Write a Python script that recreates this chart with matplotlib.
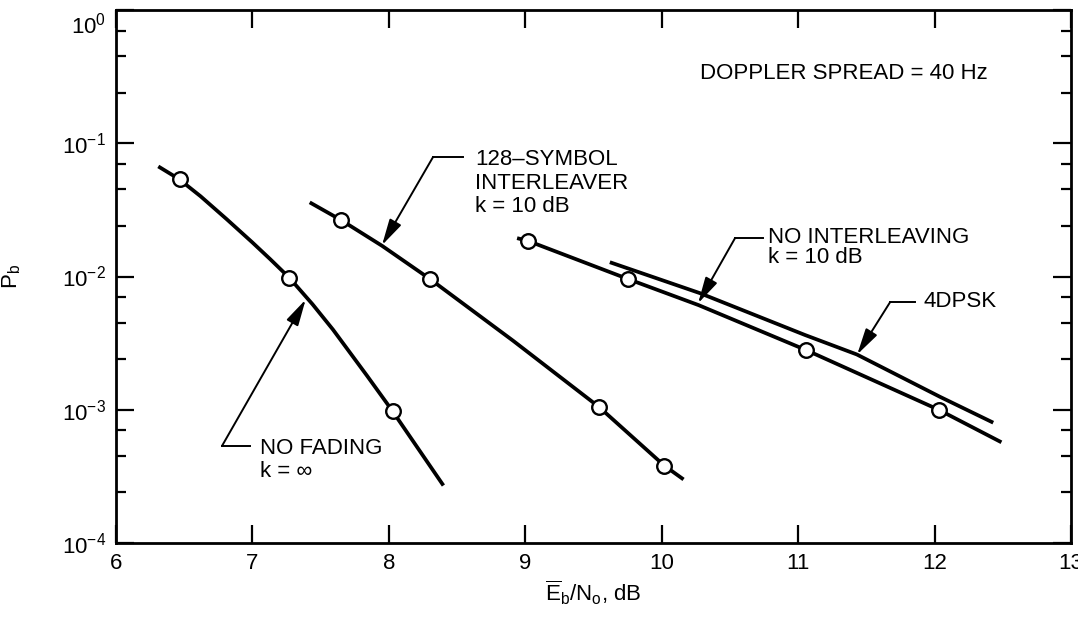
import numpy as np
import matplotlib
matplotlib.use("Agg")
import matplotlib.pyplot as plt
import matplotlib.transforms as mtransforms
from matplotlib.ticker import LogLocator, FixedLocator, NullFormatter

plt.rcParams['font.family'] = ['Liberation Sans', 'DejaVu Sans']
plt.rcParams['mathtext.fontset'] = 'custom'
plt.rcParams['mathtext.rm'] = 'Liberation Sans'
plt.rcParams['mathtext.it'] = 'Liberation Sans:italic'
plt.rcParams['mathtext.bf'] = 'Liberation Sans:bold'

# --- curves (Eb/No in dB, Pb) ---
nofade_x = [6.31, 6.46, 6.62, 6.81, 7.00, 7.13, 7.27, 7.44, 7.59, 7.84, 8.02, 8.40]
nofade_y = [6.7e-2, 5.4e-2, 4.0e-2, 2.7e-2, 1.8e-2, 1.35e-2, 9.8e-3, 6.2e-3, 4.0e-3, 1.8e-3, 1.0e-3, 2.7e-4]
nofade_px = [6.47, 7.27, 8.03]
nofade_py = [5.4e-2, 9.8e-3, 9.8e-4]

intlv_x = [7.42, 7.65, 7.95, 8.30, 8.91, 9.54, 10.02, 10.16]
intlv_y = [3.6e-2, 2.65e-2, 1.7e-2, 9.6e-3, 3.3e-3, 1.05e-3, 3.8e-4, 3.0e-4]
intlv_px = [7.65, 8.30, 9.54, 10.02]
intlv_py = [2.65e-2, 9.6e-3, 1.05e-3, 3.8e-4]

noint_x = [8.94, 9.02, 9.75, 10.27, 11.06, 12.03, 12.49]
noint_y = [1.94e-2, 1.85e-2, 9.6e-3, 6.1e-3, 2.8e-3, 1.0e-3, 5.7e-4]
noint_px = [9.02, 9.75, 11.06, 12.03]
noint_py = [1.85e-2, 9.6e-3, 2.8e-3, 1.0e-3]

dpsk_x = [9.62, 10.28, 11.05, 11.43, 12.04, 12.43]
dpsk_y = [1.28e-2, 7.5e-3, 3.64e-3, 2.6e-3, 1.25e-3, 8.0e-4]

x_ticks = [6, 7, 8, 9, 10, 11, 12, 13]
y_minor = [2.4, 4.5, 7.0]

fig = plt.figure(figsize=(10.78, 6.25), dpi=100)
ax = fig.add_axes([0.1076, 0.1312, 0.8859, 0.8528])

curve_kw = dict(color='black', lw=2.7, solid_capstyle='butt', solid_joinstyle='round')
mark_kw = dict(ls='none', marker='o', ms=10.5, mfc='white', mec='black', mew=1.7, zorder=5)

ax.plot(nofade_x, nofade_y, **curve_kw)
ax.plot(nofade_px, nofade_py, **mark_kw)
ax.plot(intlv_x, intlv_y, **curve_kw)
ax.plot(intlv_px, intlv_py, **mark_kw)
ax.plot(noint_x, noint_y, **curve_kw)
ax.plot(noint_px, noint_py, **mark_kw)
ax.plot(dpsk_x, dpsk_y, **curve_kw)

ax.set_yscale('log')
ax.set_xlim(6, 13)
ax.set_ylim(1e-4, 1)
ax.set_xticks(x_ticks)
ax.yaxis.set_major_locator(LogLocator(base=10))
ax.yaxis.set_minor_locator(FixedLocator([m * 10.0 ** e for e in range(-4, 0) for m in y_minor]))
ax.yaxis.set_minor_formatter(NullFormatter())

ax.tick_params(which='both', direction='in', top=True, right=True, width=1.6, labelsize=16)
ax.tick_params(which='major', length=13, pad=7)
ax.tick_params(which='minor', length=7)
for sp in ax.spines.values():
    sp.set_linewidth(2)

ax.set_xlabel(r'$\overline{\mathrm{E}}_\mathrm{b}/\mathrm{N}_\mathrm{o}$, dB', fontsize=16, labelpad=4)
ax.set_ylabel(r'$\mathrm{P}_\mathrm{b}$', fontsize=16)
ax.yaxis.set_label_coords(-0.097, 0.5)

# --- text labels with leader arrows ---
txt_kw = dict(fontsize=16, ha='left', va='center')
ax.text(10.28, 0.331, 'DOPPLER SPREAD = 40 Hz', **txt_kw)
ax.text(8.632, 0.0503, '128\u2013SYMBOL\nINTERLEAVER\nk = 10 dB', linespacing=1.15, **txt_kw)
ax.text(7.056, 4.2e-4, 'NO FADING\nk = \u221e', linespacing=1.18, **txt_kw)
ax.text(10.78, 0.0165, 'NO INTERLEAVING\nk = 10 dB', linespacing=0.9, **txt_kw)
ax.text(11.916, 6.44e-3, '4DPSK', **txt_kw)

# (start of horizontal stub, bend, arrow tip)
leaders = [
    ((8.544, 0.0788), (8.324, 0.0788), (7.95, 0.0172)),
    ((6.982, 5.35e-4), (6.777, 5.35e-4), (7.39, 6.7e-3)),
    ((10.743, 0.01945), (10.538, 0.01945), (10.267, 6.3e-3)),
    ((11.858, 6.44e-3), (11.675, 6.44e-3), (11.433, 2.6e-3)),
]
for start, bend, tip in leaders:
    ax.plot([start[0], bend[0]], [start[1], bend[1]], color='black', lw=1.4)
    ax.annotate('', xy=tip, xytext=bend,
                arrowprops=dict(arrowstyle='-|>,head_length=1.0,head_width=0.25',
                                mutation_scale=16, lw=1.4, color='black',
                                shrinkA=0, shrinkB=0))

# push the 10^0 label down a bit, as in the original
fig.canvas.draw()
for t in ax.yaxis.get_major_ticks():
    if np.isclose(t.get_loc(), 1.0):
        t.label1.set_transform(t.label1.get_transform() +
                               mtransforms.ScaledTranslation(0, -0.13, fig.dpi_scale_trans))

fig.savefig('out.png', dpi=100)
